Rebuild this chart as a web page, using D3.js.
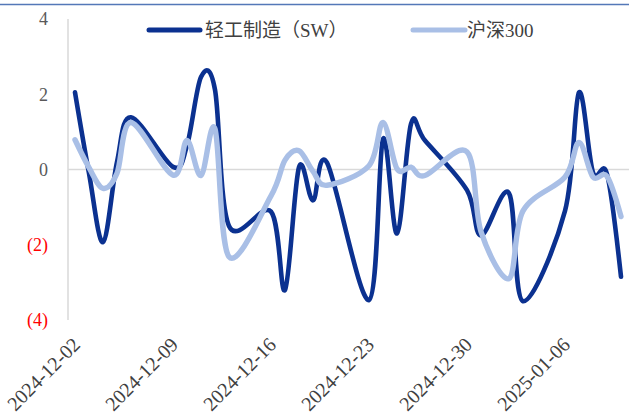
<!DOCTYPE html>
<html>
<head>
<meta charset="utf-8">
<script src="https://cdn.jsdelivr.net/npm/d3@7"></script>
<style>
  body { margin: 0; background: #fff; }
  svg { display: block; }
</style>
</head>
<body>
<script>
// Trading days shown on the date axis
const dates = [
  "2024-12-02","2024-12-03","2024-12-04","2024-12-05","2024-12-06",
  "2024-12-09","2024-12-10","2024-12-11","2024-12-12","2024-12-13",
  "2024-12-16","2024-12-17","2024-12-18","2024-12-19","2024-12-20",
  "2024-12-23","2024-12-24","2024-12-25","2024-12-26","2024-12-27",
  "2024-12-30","2024-12-31","2025-01-02","2025-01-03",
  "2025-01-06","2025-01-07","2025-01-08","2025-01-09","2025-01-10"
];

// Daily change (%) of the light-industry index
const lightIndustry = [
   2.05, -0.10, -1.93,  0.20,  1.39,
   0.07,  0.64,  2.46,  2.12, -1.50,
  -1.12, -3.20,  0.06, -0.82,  0.18,
  -3.47,  0.81, -1.70,  1.21,  0.77,
  -0.55, -1.75, -0.63, -3.50,
  -1.10,  2.05, -0.08, -0.12, -2.85
];

// Daily change (%) of the CSI 300
const csi300 = [
   0.79,  0.05, -0.50, -0.10,  1.25,
  -0.15,  0.77, -0.16,  1.08, -2.32,
  -0.70,  0.25,  0.50, -0.05, -0.42,
   0.10,  1.25,  0.02,  0.06, -0.16,
   0.47, -1.65, -2.90, -1.10,
  -0.20,  0.72, -0.20, -0.18, -1.25
];

const seriesNames = ["轻工制造（SW）", "沪深300"];
const seriesColors = ["#0b3190", "#a9bfe6"];
const xTickLabels = ["2024-12-02","2024-12-09","2024-12-16","2024-12-23","2024-12-30","2025-01-06"];
const yTicks = [-4, -2, 0, 2, 4];

const W = 629, H = 414;
const FONT = "'Liberation Serif', 'Noto Sans CJK SC', serif";

const parse = d3.utcParse("%Y-%m-%d");
const first = parse(dates[0]);
const last = parse(dates[dates.length - 1]);

const x = d3.scaleUtc()
  .domain([d3.utcHour.offset(first, -12), d3.utcHour.offset(last, 12)])
  .range([68, 628]);
const y = d3.scaleLinear().domain([-4, 4]).range([320, 19]);

const svg = d3.select("body").append("svg")
  .attr("width", W).attr("height", H)
  .style("font-family", FONT);

// Top rule
svg.append("line")
  .attr("x1", 0).attr("x2", W).attr("y1", 4.5).attr("y2", 4.5)
  .attr("stroke", "#5478b8").attr("stroke-width", 1.3);

// Value axis line
svg.append("line")
  .attr("x1", 68).attr("x2", 68).attr("y1", y(4)).attr("y2", y(-4))
  .attr("stroke", "#d9d9d9").attr("stroke-width", 1.5);

// Zero line
svg.append("line")
  .attr("x1", 68).attr("x2", W).attr("y1", y(0)).attr("y2", y(0))
  .attr("stroke", "#d9d9d9").attr("stroke-width", 1.5);

// Value labels, negatives in red parentheses
const yAxis = d3.axisLeft(y)
  .tickValues(yTicks)
  .tickSize(0)
  .tickPadding(0)
  .tickFormat(v => v < 0 ? `(${Math.abs(v)})` : `${v}`);
const gy = svg.append("g").attr("transform", "translate(48,0)").call(yAxis);
gy.select(".domain").remove();
gy.selectAll("text")
  .attr("font-family", FONT)
  .attr("font-size", 18)
  .attr("fill", d => d < 0 ? "#ff0000" : "#595959");

// Date labels, rotated
const xAxis = d3.axisBottom(x)
  .tickValues(xTickLabels.map(parse))
  .tickSize(0)
  .tickFormat(d3.utcFormat("%Y-%m-%d"));
const gx = svg.append("g").attr("transform", "translate(0,341)").call(xAxis);
gx.select(".domain").remove();
gx.selectAll("text")
  .attr("font-family", FONT)
  .attr("font-size", 20)
  .attr("fill", "#404040")
  .attr("text-anchor", "end")
  .attr("dy", "0.35em")
  .attr("y", 0)
  .attr("transform", "translate(1,0) rotate(-45)");

// Series lines
const line = d3.line()
  .x(d => x(d.date))
  .y(d => y(d.value))
  .curve(d3.curveCardinal.tension(0));

[lightIndustry, csi300].forEach((vals, k) => {
  const pts = dates.map((s, i) => ({ date: parse(s), value: vals[i] }));
  svg.append("path")
    .datum(pts)
    .attr("d", line)
    .attr("fill", "none")
    .attr("stroke", seriesColors[k])
    .attr("stroke-width", k === 0 ? 4.6 : 5.4)
    .attr("stroke-linecap", "round")
    .attr("stroke-linejoin", "round");
});

// Legend
const legendItems = [
  { x1: 149, x2: 200, tx: 205 },
  { x1: 413, x2: 465, tx: 467 }
];
legendItems.forEach((it, k) => {
  svg.append("line")
    .attr("x1", it.x1).attr("x2", it.x2).attr("y1", 30).attr("y2", 30)
    .attr("stroke", seriesColors[k])
    .attr("stroke-width", 5)
    .attr("stroke-linecap", "round");
  svg.append("text")
    .attr("x", it.tx).attr("y", 30)
    .attr("dy", "0.35em")
    .attr("font-size", 19)
    .attr("fill", "#404040")
    .text(seriesNames[k]);
});
</script>
</body>
</html>
